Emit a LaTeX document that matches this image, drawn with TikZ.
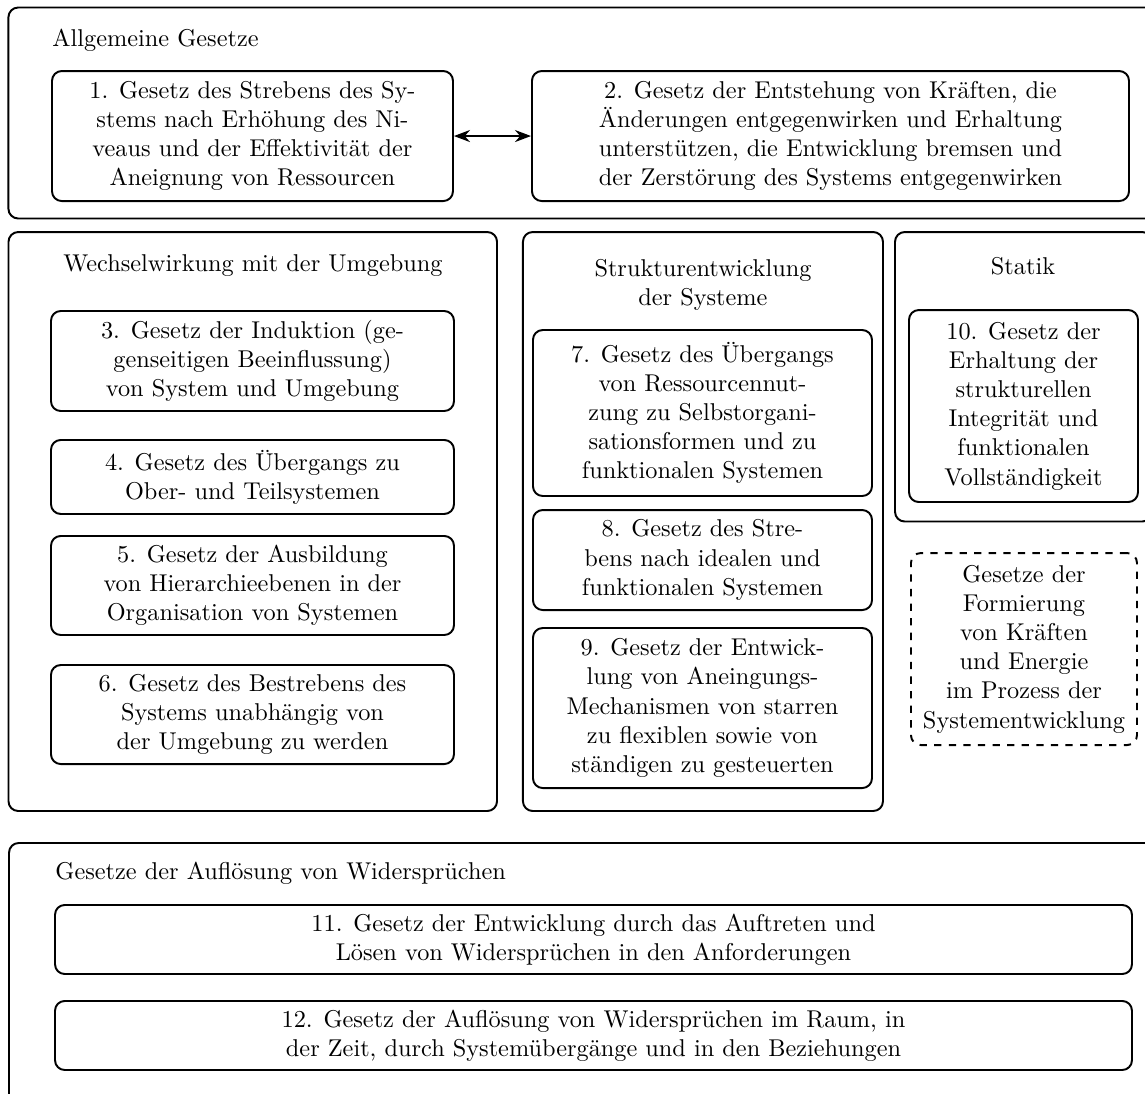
\documentclass[tikz,border=0pt]{standalone}
\usepackage{fontspec}
\usepackage{tikz}
\usetikzlibrary{arrows.meta}

\begin{document}
\begin{tikzpicture}[
  frame/.style={rectangle, draw, thick, rounded corners, inner sep=0pt},
  law/.style={rectangle, draw, thick, rounded corners, align=center, inner sep=3pt},
  lawdash/.style={law, dashed},
  heading/.style={align=center, inner sep=0pt},
  >=Stealth
]
\useasboundingbox (0,0) rectangle (16.557,-15.805);

% outer groups
\node[frame, minimum width=16.58cm, minimum height=3.051cm] (allg) at (8.412,-1.634) {};
\node[frame, minimum width=7.064cm, minimum height=8.372cm] (wech) at (3.655,-7.541) {};
\node[frame, minimum width=5.206cm, minimum height=8.372cm] (struk) at (10.165,-7.541) {};
\node[frame, minimum width=3.716cm, minimum height=4.186cm] (stat) at (14.800,-5.448) {};
\node[frame, minimum width=16.571cm, minimum height=3.861cm] (aufl) at (8.416,-14.120) {};

\node[heading, anchor=west] (tallg) at (0.752,-0.578) {Allgemeine Gesetze};
\node[heading] (twech) at (3.658,-3.846) {Wechselwirkung mit der Umgebung};
\node[heading] (tstruk) at (10.165,-4.121) {Strukturentwicklung\\der Systeme};
\node[heading] (tstat) at (14.793,-3.846) {Statik};
\node[heading, anchor=west] (taufl) at (0.795,-12.624) {Gesetze der Auflösung von Widersprüchen};

\node[law, minimum width=5.798cm, minimum height=1.880cm] (g1) at (3.651,-1.967) {1. Gesetz des Strebens des Sy-\\stems nach Erhöhung des Ni-\\veaus und der Effektivität der\\Aneignung von Ressourcen};
\node[law, minimum width=8.633cm, minimum height=1.880cm] (g2) at (12.009,-1.967) {2. Gesetz der Entstehung von Kräften, die\\Änderungen entgegenwirken und Erhaltung\\unterstützen, die Entwicklung bremsen und\\der Zerstörung des Systems entgegenwirken};

\node[law, minimum width=5.827cm, minimum height=1.446cm] (g3) at (3.651,-5.220) {3. Gesetz der Induktion (ge-\\genseitigen Beeinflussung)\\von System und Umgebung};
\node[law, minimum width=5.827cm, minimum height=1.070cm] (g4) at (3.651,-6.897) {4. Gesetz des Übergangs zu\\Ober- und Teilsystemen};
\node[law, minimum width=5.827cm, minimum height=1.432cm] (g5) at (3.651,-8.466) {5. Gesetz der Ausbildung\\von Hierarchieebenen in der\\Organisation von Systemen};
\node[law, minimum width=5.827cm, minimum height=1.432cm] (g6) at (3.651,-10.332) {6. Gesetz des Bestrebens des\\Systems unabhängig von\\der Umgebung zu werden};

\node[law, minimum width=4.902cm, minimum height=2.400cm] (g7) at (10.158,-5.972) {7. Gesetz des Übergangs\\von Ressourcennut-\\zung zu Selbstorgani-\\sationsformen und zu\\funktionalen Systemen};
\node[law, minimum width=4.902cm, minimum height=1.446cm] (g8) at (10.158,-8.098) {8. Gesetz des Stre-\\bens nach idealen und\\funktionalen Systemen};
\node[law, minimum width=4.902cm, minimum height=2.314cm] (g9) at (10.158,-10.238) {9. Gesetz der Entwick-\\lung von Aneingungs-\\Mechanismen von starren\\zu flexiblen sowie von\\ständigen zu gesteuerten};

\node[law, minimum width=3.311cm, minimum height=2.776cm] (g10) at (14.800,-5.871) {10. Gesetz der\\Erhaltung der\\strukturellen\\Integrität und\\funktionalen\\Vollständigkeit};
\node[lawdash, minimum width=3.268cm, minimum height=2.776cm] (form) at (14.807,-9.385) {Gesetze der\\Formierung\\von Kräften\\und Energie\\im Prozess der\\Systementwicklung};

\node[law, minimum width=15.573cm, minimum height=0.998cm] (g11) at (8.582,-13.585) {11. Gesetz der Entwicklung durch das Auftreten und\\Lösen von Widersprüchen in den Anforderungen};
\node[law, minimum width=15.573cm, minimum height=0.998cm] (g12) at (8.582,-14.973) {12. Gesetz der Auflösung von Widersprüchen im Raum, in\\der Zeit, durch Systemübergänge und in den Beziehungen};

\draw[<->, thick] (g1) -- (g2);
\end{tikzpicture}
\end{document}
